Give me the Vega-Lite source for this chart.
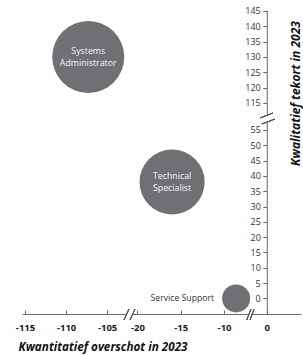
{
  "$schema": "https://vega.github.io/schema/vega-lite/v6.json",
  "width": 279,
  "height": 304,
  "autosize": {"type": "none"},
  "padding": {"left": 22, "top": 10, "right": 2, "bottom": 41},
  "background": "white",
  "config": {"view": {"stroke": null}, "font": "Open Sans"},
  "data": {
    "values": [
      {"beroep": "Systems Administrator", "overschot": -107.3, "tekort": 130, "omvang": 66},
      {"beroep": "Technical Specialist", "overschot": -16, "tekort": 38, "omvang": 54},
      {"beroep": "Service Support", "overschot": -8.6, "tekort": 0, "omvang": 10}
    ]
  },
  "layer": [
    {
      "mark": {"type": "circle", "color": "#6f7073", "opacity": 1},
      "encoding": {
        "x": {
          "field": "overschot", "type": "quantitative",
          "scale": {"domain": [-115.37, -102.7, -20.4, -7.23, -1.26, 4], "range": [0, 104, 112, 226, 234, 279], "nice": false, "zero": false},
          "axis": {
            "title": "Kwantitatief overschot in 2023",
            "values": [-115, -110, -105, -20, -15, -10, 0],
            "tickCount": 40,
            "grid": false,
            "domainColor": "#6b6b6b", "tickColor": "#6b6b6b", "tickSize": -4, "labelPadding": 12,
            "labelFont": "Open Sans", "labelFontSize": 9.5, "labelFontWeight": "bold", "labelColor": "#1a1a1a",
            "labelFlush": false, "labelOverlap": false,
            "labelExpr": "replace(datum.label, '−', '-')",
            "titleFont": "Open Sans", "titleFontSize": 11.7, "titleFontWeight": "bold", "titleFontStyle": "italic", "titleColor": "#111111",
            "titleAlign": "left", "titleAnchor": "start", "titleX": -4, "titleY": 36, "titleBaseline": "alphabetic"
          }
        },
        "y": {
          "field": "tekort", "type": "quantitative",
          "scale": {"domain": [-5.07, 57.9, 110.74, 145.3], "range": [304, 111, 106, 0], "nice": false, "zero": false},
          "axis": {
            "title": "Kwalitatief tekort in 2023",
            "orient": "left", "offset": -244.78,
            "values": [0, 5, 10, 15, 20, 25, 30, 35, 40, 45, 50, 55, 115, 120, 125, 130, 135, 140, 145],
            "tickCount": 40,
            "grid": false,
            "domainColor": "#6b6b6b", "tickColor": "#6b6b6b", "tickSize": 4, "labelPadding": 2.5,
            "labelFont": "Open Sans", "labelFontSize": 9, "labelColor": "#333333",
            "labelOverlap": false, "labelFlush": false,
            "titleFont": "Open Sans", "titleFontSize": 12, "titleFontWeight": "bold", "titleFontStyle": "italic", "titleColor": "#111111",
            "titleAngle": -90, "titleX": 33, "titleY": 83, "titleBaseline": "alphabetic", "titleAlign": "center"
          }
        },
        "size": {"field": "omvang", "type": "quantitative", "scale": {"type": "linear", "domain": [0, 100], "range": [0, 7854]}, "legend": null}
      }
    },
    {
      "transform": [{"filter": "datum.beroep !== 'Service Support'"}],
      "mark": {"type": "text", "color": "#f5f5f5", "font": "Open Sans", "fontSize": 8.8, "lineBreak": " ", "lineHeight": 11.5, "baseline": "middle", "align": "center", "dy": -5.5},
      "encoding": {
        "x": {"field": "overschot", "type": "quantitative"},
        "y": {"field": "tekort", "type": "quantitative"},
        "text": {"field": "beroep"}
      }
    },
    {
      "transform": [{"filter": "datum.beroep === 'Service Support'"}],
      "mark": {"type": "text", "color": "#333333", "font": "Open Sans", "fontSize": 8.7, "baseline": "middle", "align": "right", "dx": -22},
      "encoding": {
        "x": {"field": "overschot", "type": "quantitative"},
        "y": {"field": "tekort", "type": "quantitative"},
        "text": {"field": "beroep"}
      }
    },
    {
      "mark": {"type": "rule", "color": "white", "strokeWidth": 3},
      "encoding": {"x": {"datum": -87.3}, "x2": {"datum": -40.97}, "y": {"datum": -5.07}}
    },
    {
      "mark": {"type": "rule", "color": "white", "strokeWidth": 3},
      "encoding": {"x": {"datum": -6.26}, "x2": {"datum": -4.69}, "y": {"datum": -5.07}}
    },
    {
      "mark": {"type": "rule", "color": "white", "strokeWidth": 3},
      "encoding": {"x": {"datum": 0}, "y": {"datum": 57.8}, "y2": {"datum": 110.7}}
    },
    {
      "mark": {"type": "rule", "color": "#555555", "strokeWidth": 1},
      "encoding": {"x": {"datum": -102.94}, "x2": {"datum": -71.84}, "y": {"datum": -7.03}, "y2": {"datum": -3.44}}
    },
    {
      "mark": {"type": "rule", "color": "#555555", "strokeWidth": 1},
      "encoding": {"x": {"datum": -61.55}, "x2": {"datum": -20.28}, "y": {"datum": -7.03}, "y2": {"datum": -3.44}}
    },
    {
      "mark": {"type": "rule", "color": "#555555", "strokeWidth": 1},
      "encoding": {"x": {"datum": -7.38}, "x2": {"datum": -4.99}, "y": {"datum": -7.03}, "y2": {"datum": -3.44}}
    },
    {
      "mark": {"type": "rule", "color": "#555555", "strokeWidth": 1},
      "encoding": {"x": {"datum": -5.74}, "x2": {"datum": -2.75}, "y": {"datum": -7.03}, "y2": {"datum": -3.44}}
    },
    {
      "mark": {"type": "rule", "color": "#555555", "strokeWidth": 1},
      "encoding": {"x": {"datum": -0.79}, "x2": {"datum": 0.73}, "y": {"datum": 89.6}, "y2": {"datum": 111.72}}
    },
    {
      "mark": {"type": "rule", "color": "#555555", "strokeWidth": 1},
      "encoding": {"x": {"datum": -0.59}, "x2": {"datum": 0.96}, "y": {"datum": 56.92}, "y2": {"datum": 79.04}}
    }
  ]
}
